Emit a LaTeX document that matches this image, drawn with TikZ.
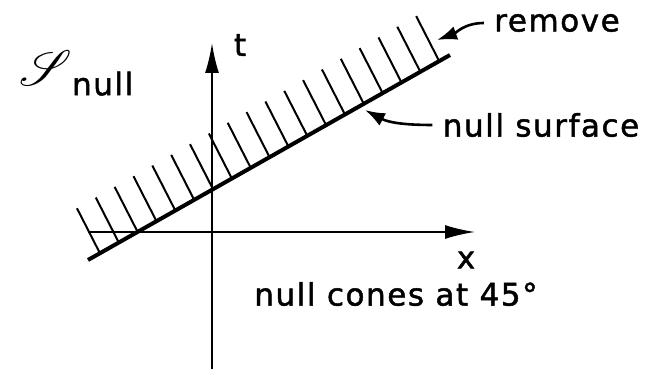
\documentclass[tikz,border=0pt]{standalone}
\usepackage{fontspec}
\usepackage{mathrsfs}
\setmainfont{DejaVu Sans}[LetterSpace=5, FakeBold=1.5]
\usetikzlibrary{arrows.meta,calc}

\begin{document}
\begin{tikzpicture}[x=0.5pt, y=0.5pt,
    every node/.style={font=\fontsize{15.5pt}{18pt}\selectfont},
    axis/.style={line width=1pt, -{Latex[length=15pt, width=7pt]}},
    pointer/.style={line width=1.3pt, -{Latex[length=10pt, width=7pt]}},
    hatch/.style={line width=1pt},
    lbl/.style={inner sep=5pt}]
    \useasboundingbox (0,0) rectangle (653,369);

    \coordinate (O) at (212,137);
    \coordinate (tbot) at (212,0);
    \coordinate (ttop) at (212,326);
    \coordinate (xleft) at (88,137);
    \coordinate (xright) at (475,137);
    \coordinate (A) at (88,109);
    \coordinate (B) at (450,314);

    \draw[axis] (tbot) -- (ttop);
    \draw[axis] (xleft) -- (xright);

    \draw[line width=2pt] (A) -- (B);
    \foreach \i [evaluate=\i as \f using 0.033+\i*0.05206] in {0,...,18} {
        \draw[hatch] ($(A)!\f!(B)$) -- ++(-23,45);
    }

    \node (tlab) at (240,324) {t};
    \node (xlab) at (466,109) {x};
    \node[lbl] (rem) at (557,346) {remove};
    \node[lbl] (surf) at (541,244) {null surface};
    \node (cones) at (396,75) {null cones at 45°};
    \node[inner sep=0, anchor=north west] (snull) at (19,319)
        {{\fontsize{23pt}{26pt}\selectfont$\mathscr{S}$}\raisebox{-5pt}{null}};

    \coordinate (remtip) at (437,329);
    \coordinate (surftip) at (365,259);
    \draw[pointer] (rem.west) to[out=180, in=20] (remtip);
    \draw[pointer] (surf.west) to[out=180, in=-28] (surftip);
\end{tikzpicture}
\end{document}
